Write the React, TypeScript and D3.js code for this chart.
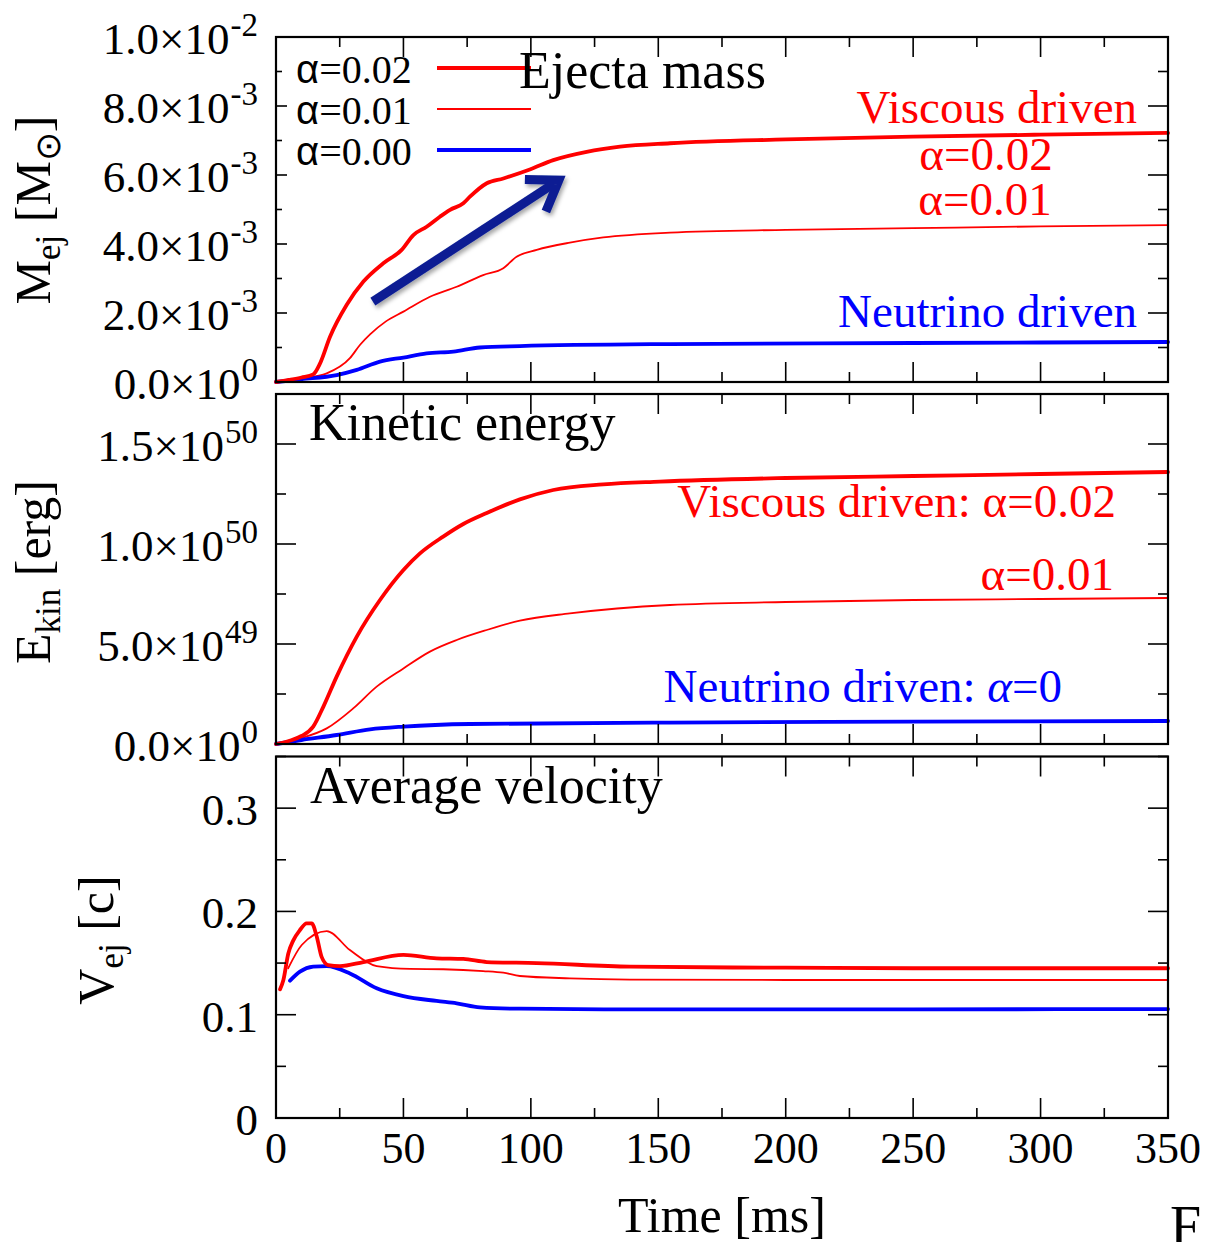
import React from 'react';
import * as d3 from 'd3';

// ---------- data ----------
const X_TICKS = [0, 50, 100, 150, 200, 250, 300, 350];

// Panel 1: ejecta mass, in units of 1e-3 Msun
const MEJ_A002_T = [0, 5, 10, 14.6, 17.3, 21.2, 27.7, 34.3, 42.1, 49.3, 53.9, 59.1, 64.3, 68.3, 73.5, 76.1, 82.7, 89.2, 99.6, 108.8, 121.9, 135, 154.6, 200, 250, 300, 350];
const MEJ_A002_V = [0, 0.06, 0.13, 0.22, 0.54, 1.31, 2.23, 2.91, 3.44, 3.83, 4.26, 4.5, 4.79, 4.99, 5.18, 5.37, 5.76, 5.9, 6.16, 6.43, 6.67, 6.82, 6.92, 7.03, 7.11, 7.17, 7.22];
const MEJ_A001_T = [0, 10, 19.9, 29, 33, 36.9, 43, 50, 60.4, 70.9, 81.3, 89.2, 94.4, 102.3, 115.3, 128.4, 154.6, 200, 250, 300, 350];
const MEJ_A001_V = [0, 0.1, 0.25, 0.69, 1.08, 1.38, 1.75, 2.04, 2.47, 2.76, 3.1, 3.3, 3.63, 3.83, 4.04, 4.19, 4.33, 4.41, 4.46, 4.51, 4.55];
const MEJ_A000_T = [0, 10, 23.8, 31.7, 40.8, 50, 59.1, 69.6, 80, 95.7, 154.6, 250, 350];
const MEJ_A000_V = [0, 0.08, 0.2, 0.35, 0.59, 0.71, 0.83, 0.88, 1.0, 1.04, 1.1, 1.13, 1.16];

// Panel 2: kinetic energy, in units of 1e50 erg
const EK_A002_T = [0, 5, 10, 14.6, 18.6, 23.8, 31.7, 40.8, 50, 56.5, 65.6, 73.5, 82.7, 95.7, 108.8, 128.4, 150.6, 200, 250, 300, 350];
const EK_A002_V = [0, 0.015, 0.04, 0.087, 0.187, 0.337, 0.537, 0.72, 0.87, 0.953, 1.037, 1.1, 1.155, 1.223, 1.27, 1.298, 1.312, 1.33, 1.34, 1.35, 1.36];
const EK_A001_T = [0, 10, 19.9, 30.3, 39.5, 50, 60.4, 70.9, 82.7, 95.7, 115.3, 154.6, 200, 250, 300, 350];
const EK_A001_V = [0, 0.03, 0.078, 0.178, 0.287, 0.378, 0.462, 0.52, 0.57, 0.617, 0.653, 0.695, 0.71, 0.72, 0.725, 0.73];
const EK_A000_T = [0, 10, 23.8, 36.9, 50, 76.1, 154.6, 250, 350];
const EK_A000_V = [0, 0.02, 0.045, 0.073, 0.087, 0.1, 0.107, 0.112, 0.115];

// Panel 3: average velocity, in units of c
const V_A002_T = [1.6, 2.9, 4.8, 6.8, 9.4, 12, 14, 16, 17.9, 20.5, 25.1, 34.3, 50, 63, 73.5, 82.7, 102.3, 138.9, 200, 250, 300, 350];
const V_A002_V = [0.1246, 0.1336, 0.159, 0.172, 0.182, 0.1885, 0.1885, 0.1755, 0.156, 0.148, 0.147, 0.151, 0.158, 0.1546, 0.154, 0.151, 0.15, 0.1465, 0.1455, 0.145, 0.145, 0.145];
const V_A001_T = [4.8, 10.1, 19.9, 29, 39.5, 52.6, 65.6, 81.3, 89.2, 95.7, 115.3, 138.9, 200, 350];
const V_A001_V = [0.145, 0.1675, 0.181, 0.1626, 0.147, 0.1443, 0.144, 0.1423, 0.1407, 0.1375, 0.1352, 0.134, 0.1336, 0.1336];
const V_A000_T = [5.5, 9.4, 14.6, 19.9, 29, 39.5, 50, 63, 70.9, 80, 95.7, 138.9, 250, 350];
const V_A000_V = [0.133, 0.1417, 0.1465, 0.147, 0.14, 0.1256, 0.118, 0.1133, 0.111, 0.1071, 0.1058, 0.1052, 0.1052, 0.1055];

const P1_TICKS = [0, 2, 4, 6, 8, 10];
const P1_LABELS = [['0.0×10', '0'], ['2.0×10', '-3'], ['4.0×10', '-3'], ['6.0×10', '-3'], ['8.0×10', '-3'], ['1.0×10', '-2']];
const P2_TICKS = [0, 0.5, 1.0, 1.5];
const P2_LABELS = [['0.0×10', '0'], ['5.0×10', '49'], ['1.0×10', '50'], ['1.5×10', '50']];
const P3_TICKS = [0, 0.1, 0.2, 0.3];
const P3_LABELS = [['0', ''], ['0.1', ''], ['0.2', ''], ['0.3', '']];

// arrow annotation in data coords (t, 1e-3 Msun)
const ARROW = [[38, 2.33], [111, 5.85]];

const SERIF = '"Liberation Serif", "Times New Roman", serif';
const SANS = '"Liberation Sans", Arial, sans-serif';
const RED = '#ff0000';
const BLUE = '#0000ff';

const zip = (t: number[], v: number[]) => t.map((d, i) => [d, v[i]] as [number, number]);

const x = d3.scaleLinear().domain([0, 350]).range([276, 1168]);

type PanelProps = {
  top: number; bottom: number; domain: [number, number];
  majorStep: number; minorStep: number; leftMajor: number; leftMinor: number;
  ticks: number[]; labels: string[][];
  series: { t: number[]; v: number[]; color: string; w: number }[];
  children?: (y: d3.ScaleLinear<number, number>) => React.ReactNode;
};

function Panel(p: PanelProps) {
  const y = d3.scaleLinear().domain(p.domain).range([p.bottom, p.top]);
  const line = d3.line<[number, number]>().x(d => x(d[0])).y(d => y(d[1])).curve(d3.curveMonotoneX);
  const xMinor = d3.range(0, 350.01, 25);
  const yMinor = d3.range(p.domain[0], p.domain[1] + 1e-9, p.minorStep);
  const isMajorY = (v: number) => Math.abs(v / p.majorStep - Math.round(v / p.majorStep)) < 1e-6;
  const L = x(0), R = x(350);
  return (
    <g>
      {p.series.map((s, i) => (
        <path key={i} d={line(zip(s.t, s.v)) || ''} fill="none" stroke={s.color} strokeWidth={s.w} strokeLinejoin="round" strokeLinecap="round" />
      ))}
      {xMinor.map(t => {
        const len = t % 50 === 0 ? 20 : 10;
        return (
          <g key={'xt' + t}>
            <line x1={x(t)} x2={x(t)} y1={p.bottom} y2={p.bottom - len} stroke="#000" strokeWidth={1.6} />
            <line x1={x(t)} x2={x(t)} y1={p.top} y2={p.top + len} stroke="#000" strokeWidth={1.6} />
          </g>
        );
      })}
      {yMinor.map(v => {
        const maj = isMajorY(v);
        return (
          <g key={'yt' + v}>
            <line x1={L} x2={L + (maj ? p.leftMajor : p.leftMinor)} y1={y(v)} y2={y(v)} stroke="#000" strokeWidth={1.6} />
            <line x1={R} x2={R - (maj ? 20 : 10)} y1={y(v)} y2={y(v)} stroke="#000" strokeWidth={1.6} />
          </g>
        );
      })}
      {p.ticks.map((v, i) => (
        <text key={'yl' + v} x={258} y={y(v) + 17} textAnchor="end" fontFamily={SERIF} fontSize={45} fill="#000">
          {p.labels[i][0]}
          {p.labels[i][1] ? <tspan dx={1} dy={-18} fontSize={33}>{p.labels[i][1]}</tspan> : null}
        </text>
      ))}
      {p.children ? p.children(y) : null}
      <rect x={L} y={p.top} width={R - L} height={p.bottom - p.top} fill="none" stroke="#000" strokeWidth={2.2} />
    </g>
  );
}

export default function App() {
  const y1 = d3.scaleLinear().domain([0, 10]).range([382, 37]);
  const ax0 = x(ARROW[0][0]), ay0 = y1(ARROW[0][1]);
  const ax1 = x(ARROW[1][0]), ay1 = y1(ARROW[1][1]);
  const ang = Math.atan2(ay1 - ay0, ax1 - ax0);
  const head = 34;
  const h1 = [ax1 - head * Math.cos(ang - 0.6), ay1 - head * Math.sin(ang - 0.6)];
  const h2 = [ax1 - head * Math.cos(ang + 0.6), ay1 - head * Math.sin(ang + 0.6)];

  return (
    <svg width={1207} height={1242} style={{ position: 'absolute', left: 0, top: 0, background: '#fff' }}>
      <defs>
        <filter id="shadow" x="-20%" y="-20%" width="140%" height="140%">
          <feDropShadow dx="2" dy="3" stdDeviation="2" floodColor="#000" floodOpacity="0.35" />
        </filter>
      </defs>
      <rect x={0} y={0} width={1207} height={1242} fill="#fff" />

      <Panel top={37} bottom={382} domain={[0, 10]} majorStep={2} minorStep={1} leftMajor={11} leftMinor={6}
        ticks={P1_TICKS} labels={P1_LABELS}
        series={[
          { t: MEJ_A001_T, v: MEJ_A001_V, color: RED, w: 1.8 },
          { t: MEJ_A000_T, v: MEJ_A000_V, color: BLUE, w: 3.8 },
          { t: MEJ_A002_T, v: MEJ_A002_V, color: RED, w: 3.8 },
        ]}>
        {() => (
          <g>
            <g fontFamily={SERIF} fontSize={40} fill="#000">
              <text x={296} y={83}><tspan fontFamily={SANS}>α</tspan>=0.02</text>
              <text x={296} y={124}><tspan fontFamily={SANS}>α</tspan>=0.01</text>
              <text x={296} y={165}><tspan fontFamily={SANS}>α</tspan>=0.00</text>
            </g>
            <line x1={437} x2={531} y1={68} y2={68} stroke={RED} strokeWidth={3.8} />
            <line x1={437} x2={531} y1={109} y2={109} stroke={RED} strokeWidth={1.8} />
            <line x1={437} x2={531} y1={150} y2={150} stroke={BLUE} strokeWidth={3.8} />
            <text x={519} y={88} fontFamily={SERIF} fontSize={52} fill="#000">Ejecta mass</text>
            <g fontFamily={SERIF} fontSize={47}>
              <text x={1137} y={123} textAnchor="end" fill={RED}>Viscous driven</text>
              <text x={986} y={170} textAnchor="middle" fill={RED}>α=0.02</text>
              <text x={985} y={215} textAnchor="middle" fill={RED}>α=0.01</text>
              <text x={1137} y={327} textAnchor="end" fill={BLUE}>Neutrino driven</text>
            </g>
            <g filter="url(#shadow)" stroke="#0a1f93" strokeWidth={9} fill="none" strokeLinecap="butt" strokeLinejoin="miter">
              <line x1={ax0} y1={ay0} x2={ax1 - 6 * Math.cos(ang)} y2={ay1 - 6 * Math.sin(ang)} />
              <polyline points={`${h1[0]},${h1[1]} ${ax1},${ay1} ${h2[0]},${h2[1]}`} />
            </g>
          </g>
        )}
      </Panel>

      <Panel top={394} bottom={744} domain={[0, 1.75]} majorStep={0.5} minorStep={0.25} leftMajor={20} leftMinor={10}
        ticks={P2_TICKS} labels={P2_LABELS}
        series={[
          { t: EK_A001_T, v: EK_A001_V, color: RED, w: 1.8 },
          { t: EK_A000_T, v: EK_A000_V, color: BLUE, w: 3.8 },
          { t: EK_A002_T, v: EK_A002_V, color: RED, w: 3.8 },
        ]}>
        {() => (
          <g>
            <text x={309} y={440} fontFamily={SERIF} fontSize={52} fill="#000">Kinetic energy</text>
            <g fontFamily={SERIF} fontSize={47}>
              <text x={1116} y={517} textAnchor="end" fill={RED}>Viscous driven: α=0.02</text>
              <text x={1114} y={590} textAnchor="end" fill={RED}>α=0.01</text>
              <text x={1062} y={702} textAnchor="end" fill={BLUE}>Neutrino driven: <tspan fontStyle="italic">α</tspan>=0</text>
            </g>
          </g>
        )}
      </Panel>

      <Panel top={756.5} bottom={1118} domain={[0, 0.35]} majorStep={0.1} minorStep={0.05} leftMajor={20} leftMinor={10}
        ticks={P3_TICKS} labels={P3_LABELS}
        series={[
          { t: V_A001_T, v: V_A001_V, color: RED, w: 1.8 },
          { t: V_A000_T, v: V_A000_V, color: BLUE, w: 3.8 },
          { t: V_A002_T, v: V_A002_V, color: RED, w: 3.8 },
        ]}>
        {() => (
          <text x={310} y={803} fontFamily={SERIF} fontSize={52} fill="#000">Average velocity</text>
        )}
      </Panel>

      {X_TICKS.map(t => (
        <text key={'xl' + t} x={x(t)} y={1163} textAnchor="middle" fontFamily={SERIF} fontSize={44} fill="#000">{t}</text>
      ))}
      <text x={722} y={1232} textAnchor="middle" fontFamily={SERIF} fontSize={50} fill="#000">Time [ms]</text>

      <g fontFamily={SERIF} fontSize={50} fill="#000">
        <text transform="translate(50,210) rotate(-90)" textAnchor="middle">
          M<tspan fontSize={35} dy={10}>ej</tspan><tspan dy={-10}> [M</tspan><tspan fontSize={35} dy={10}>⊙</tspan><tspan dy={-10}>]</tspan>
        </text>
        <text transform="translate(50,572) rotate(-90)" textAnchor="middle">
          E<tspan fontSize={35} dy={10}>kin</tspan><tspan dy={-10}> [erg]</tspan>
        </text>
        <text transform="translate(113,940) rotate(-90)" textAnchor="middle">
          V<tspan fontSize={35} dy={10}>ej</tspan><tspan dy={-10}> [c]</tspan>
        </text>
      </g>

      <text x={1170} y={1245} fontFamily={SERIF} fontSize={56} fill="#000">F</text>
    </svg>
  );
}
